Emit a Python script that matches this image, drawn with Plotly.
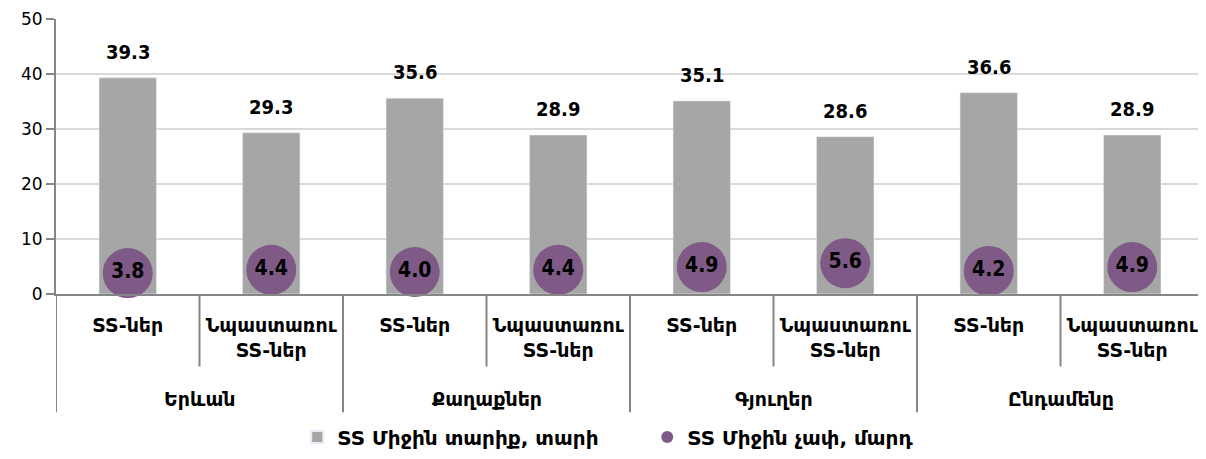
import plotly.graph_objects as go

groups = ["Երևան", "Քաղաքներ", "Գյուղեր", "Ընդամենը"]
subs = ["SS-ներ", "Նպաստառու<br>SS-ներ"] * 4
avg_age = [39.3, 29.3, 35.6, 28.9, 35.1, 28.6, 36.6, 28.9]
avg_size = [3.8, 4.4, 4.0, 4.4, 4.9, 5.6, 4.2, 4.9]

FONT = "DejaVu Sans"
NUM_FONT = "DejaVu Sans Condensed"
xs = list(range(len(subs)))
PLOT_H = 277  # plot area height in px, used to place the axis decorations

fig = go.Figure()
fig.add_trace(go.Bar(
    x=xs, y=avg_age,
    name="SS Միջին տարիք, տարի",
    marker=dict(color="#A6A6A6"),
    width=0.4,
))
fig.add_trace(go.Scatter(
    x=xs, y=avg_size,
    name="SS Միջին չափ, մարդ",
    mode="markers+text",
    marker=dict(color="#7F5A86", size=50),
    text=[f"{v:.1f}" for v in avg_size],
    textposition="middle center",
    textfont=dict(size=21, color="black", family=NUM_FONT, weight="bold"),
    cliponaxis=False,
))

# value labels above the bars
for x, v in zip(xs, avg_age):
    fig.add_annotation(x=x, y=v, text=f"{v:.1f}", showarrow=False,
                       yanchor="bottom", yshift=12,
                       font=dict(size=20, color="black", family=NUM_FONT, weight="bold"))

# category dividers and group labels
line = dict(color="#868686", width=2)
for i in range(len(subs) + 1):
    outer = i % 2 == 0
    fig.add_shape(type="line", xref="x", yref="paper",
                  x0=i - 0.5, x1=i - 0.5, y0=0,
                  y1=-(119 if outer else 73) / PLOT_H, line=line)
for g, name in enumerate(groups):
    fig.add_annotation(x=2 * g + 0.5, y=-106 / PLOT_H, xref="x", yref="paper",
                       text=name, showarrow=False, yanchor="middle",
                       font=dict(size=19, color="black", family=FONT, weight="bold"))

fig.update_layout(
    width=1198, height=451,
    margin=dict(l=48, r=2, t=11, b=163),
    plot_bgcolor="white", paper_bgcolor="white",
    font=dict(family=FONT, size=17, color="black"),
    showlegend=True,
    legend=dict(orientation="h", x=0.515, xanchor="center", y=-144 / PLOT_H, yanchor="middle",
                font=dict(size=20, family=FONT, weight="bold"),
                itemsizing="constant", itemwidth=30, entrywidth=305),
)
fig.update_xaxes(
    range=[-0.5, len(subs) - 0.5],
    tickmode="array", tickvals=xs, ticktext=subs,
    showline=True, linecolor="#868686", linewidth=2,
    ticks="outside", ticklen=13, tickcolor="rgba(0,0,0,0)",
    showgrid=False, zeroline=False,
    tickfont=dict(size=19, family=FONT, weight="bold"),
)
fig.update_yaxes(
    range=[0, 50], dtick=10,
    showgrid=True, gridcolor="#D9D9D9", gridwidth=2,
    showline=True, linecolor="#868686", linewidth=2,
    ticks="outside", ticklen=8, tickcolor="#868686", tickwidth=2,
    zeroline=False,
    tickfont=dict(size=17, family=FONT),
)

fig.write_html("out.html")
